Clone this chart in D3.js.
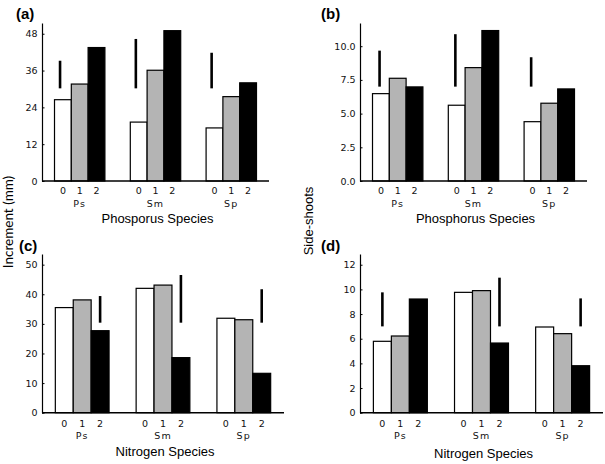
<!DOCTYPE html>
<html>
<head>
<meta charset="utf-8">
<script src="https://cdn.jsdelivr.net/npm/d3@7"></script>
<style>
  html, body { margin: 0; padding: 0; background: #fff; }
  svg { display: block; }
</style>
</head>
<body>
<svg id="chart" width="605" height="464"></svg>
<script>
// ---------- data ----------
const groups = ["Ps", "Sm", "Sp"];
const levels = ["0", "1", "2"];
const levelFills = ["#ffffff", "#b4b4b4", "#000000"];

// values per group, per level (0,1,2)
const incrementP = [[26.5, 31.6, 43.5], [19.2, 36.1, 49.0], [17.3, 27.5, 32.0]];
const shootsP    = [[6.48, 7.62, 6.98], [5.62, 8.41, 11.16], [4.40, 5.77, 6.83]];
const incrementN = [[35.5, 38.1, 27.7], [42.0, 43.1, 18.6], [31.9, 31.4, 13.3]];
const shootsN    = [[5.79, 6.22, 9.22], [9.76, 9.90, 5.65], [6.95, 6.41, 3.81]];

// LSD-style bars: [low, high] per group, and which level they sit over
const errIncrementP = [[30.2, 39.2], [30.2, 46.3], [30.2, 41.8]];
const errShootsP    = [[7.0, 9.67], [7.0, 10.89], [7.0, 9.18]];
const errIncrementN = [[30.4, 39.4], [30.4, 46.5], [30.4, 41.7]];
const errShootsN    = [[7.0, 9.76], [7.0, 10.95], [7.0, 9.27]];

const ticksIncrementP = [0, 12, 24, 36, 48];
const ticksShootsP    = [0, 2.5, 5.0, 7.5, 10.0];
const ticksIncrementN = [0, 10, 20, 30, 40, 50];
const ticksShootsN    = [0, 2, 4, 6, 8, 10, 12];

const panelLabels = ["(a)", "(b)", "(c)", "(d)"];
const xTitles = ["Phosporus Species", "Phosphorus Species", "Nitrogen Species", "Nitrogen Species"];
const yTitles = ["Increment (mm)", "Side-shoots"];

// ---------- layout ----------
const panels = [
  { label: panelLabels[0], values: incrementP, err: errIncrementP, errLevel: 0, errFrac: 0.33,
    ticks: ticksIncrementP, fmt: d3.format("d"), yMax: 51.5,
    left: 42, right: 269, top: 23, bottom: 181, title: xTitles[0],
    labelPos: [16, 18.5], lvlDy: 13, grpDy: 25.5, titleDy: 41.5 },
  { label: panelLabels[1], values: shootsP, err: errShootsP, errLevel: 0, errFrac: 0.42,
    ticks: ticksShootsP, fmt: d3.format(".1f"), yMax: 11.72,
    left: 360, right: 587, top: 23, bottom: 181, title: xTitles[1],
    labelPos: [321, 18.5], lvlDy: 13, grpDy: 25.5, titleDy: 42 },
  { label: panelLabels[2], values: incrementN, err: errIncrementN, errLevel: 2, errFrac: 0.5,
    ticks: ticksIncrementN, fmt: d3.format("d"), yMax: 53.6,
    left: 42, right: 284, top: 254, bottom: 412.7, title: xTitles[2],
    labelPos: [19, 250.5], lvlDy: 14, grpDy: 26.5, titleDy: 43.5 },
  { label: panelLabels[3], values: shootsN, err: errShootsN, errLevel: null, errFrac: 0.5,
    errLevels: [0, 2, 2],
    ticks: ticksShootsN, fmt: d3.format("d"), yMax: 12.87,
    left: 360, right: 603, top: 254, bottom: 412.7, title: xTitles[3],
    labelPos: [321, 250.5], lvlDy: 14, grpDy: 26.5, titleDy: 45.5 }
];

const svg = d3.select("#chart");
const tickFont = "'DejaVu Sans', Verdana, sans-serif";
const titleFont = "'Liberation Sans', Arial, sans-serif";

panels.forEach(p => {
  const g = svg.append("g");

  const y = d3.scaleLinear().domain([0, p.yMax]).range([p.bottom, p.top]);
  const x = d3.scaleBand().domain(groups).range([p.left, p.right])
    .paddingInner(0.335).paddingOuter(0.165);
  const xi = d3.scaleBand().domain(levels).range([0, x.bandwidth()]).padding(0);

  // bars
  groups.forEach((grp, gi) => {
    const gg = g.append("g").attr("transform", `translate(${x(grp)},0)`);
    gg.selectAll("rect").data(p.values[gi]).join("rect")
      .attr("x", (d, i) => xi(levels[i]))
      .attr("y", d => y(d))
      .attr("width", xi.bandwidth())
      .attr("height", d => y(0) - y(d))
      .attr("fill", (d, i) => levelFills[i])
      .attr("stroke", "#000")
      .attr("stroke-width", 1.2);

    // level labels
    gg.selectAll("text.lvl").data(levels).join("text")
      .attr("class", "lvl")
      .attr("x", d => xi(d) + xi.bandwidth() / 2)
      .attr("y", p.bottom + p.lvlDy)
      .attr("text-anchor", "middle")
      .attr("font-family", tickFont)
      .attr("font-size", 9.5)
      .attr("fill", "#111")
      .text(d => d);

    // group label
    gg.append("text")
      .attr("x", x.bandwidth() / 2)
      .attr("y", p.bottom + p.grpDy)
      .attr("text-anchor", "middle")
      .attr("font-family", tickFont)
      .attr("font-size", 9.5)
      .attr("letter-spacing", 1.2)
      .attr("fill", "#111")
      .text(grp);

    // error bar
    const lvlIdx = p.errLevels ? p.errLevels[gi] : p.errLevel;
    const ex = xi(levels[lvlIdx]) + p.errFrac * xi.bandwidth();
    gg.append("line")
      .attr("x1", ex).attr("x2", ex)
      .attr("y1", y(p.err[gi][0])).attr("y2", y(p.err[gi][1]))
      .attr("stroke", "#000")
      .attr("stroke-width", 2.6);
  });

  // y axis
  const yAxis = d3.axisLeft(y).tickValues(p.ticks).tickFormat(p.fmt)
    .tickSizeInner(-2.5).tickSizeOuter(0).tickPadding(4.5);
  const ya = g.append("g").attr("transform", `translate(${p.left},0)`).call(yAxis);
  ya.select(".domain").attr("stroke", "#000").attr("stroke-width", 1.2);
  ya.selectAll(".tick line").attr("stroke", "#000");
  ya.selectAll(".tick text")
    .attr("font-family", tickFont).attr("font-size", 9.5).attr("fill", "#111");

  // x axis line (no ticks)
  g.append("line")
    .attr("x1", p.left).attr("x2", p.right)
    .attr("y1", y(0)).attr("y2", y(0))
    .attr("stroke", "#000").attr("stroke-width", 1.4);

  // x title
  g.append("text")
    .attr("x", x("Sm") + x.bandwidth() / 2 + 2)
    .attr("y", p.bottom + p.titleDy)
    .attr("text-anchor", "middle")
    .attr("font-family", titleFont)
    .attr("font-size", 13)
    .attr("fill", "#000")
    .text(p.title);

  // panel label
  g.append("text")
    .attr("x", p.labelPos[0]).attr("y", p.labelPos[1])
    .attr("font-family", titleFont)
    .attr("font-weight", "bold")
    .attr("font-size", 15)
    .attr("fill", "#000")
    .text(p.label);
});

// y titles
svg.append("text")
  .attr("transform", "translate(13,222) rotate(-90)")
  .attr("text-anchor", "middle")
  .attr("font-family", "Lato, 'Open Sans', sans-serif")
  .attr("font-size", 13.5)
  .attr("fill", "#000")
  .text(yTitles[0]);

svg.append("text")
  .attr("transform", "translate(313,221) rotate(-90)")
  .attr("text-anchor", "middle")
  .attr("font-family", titleFont)
  .attr("font-size", 13)
  .attr("fill", "#000")
  .text(yTitles[1]);
</script>
</body>
</html>
